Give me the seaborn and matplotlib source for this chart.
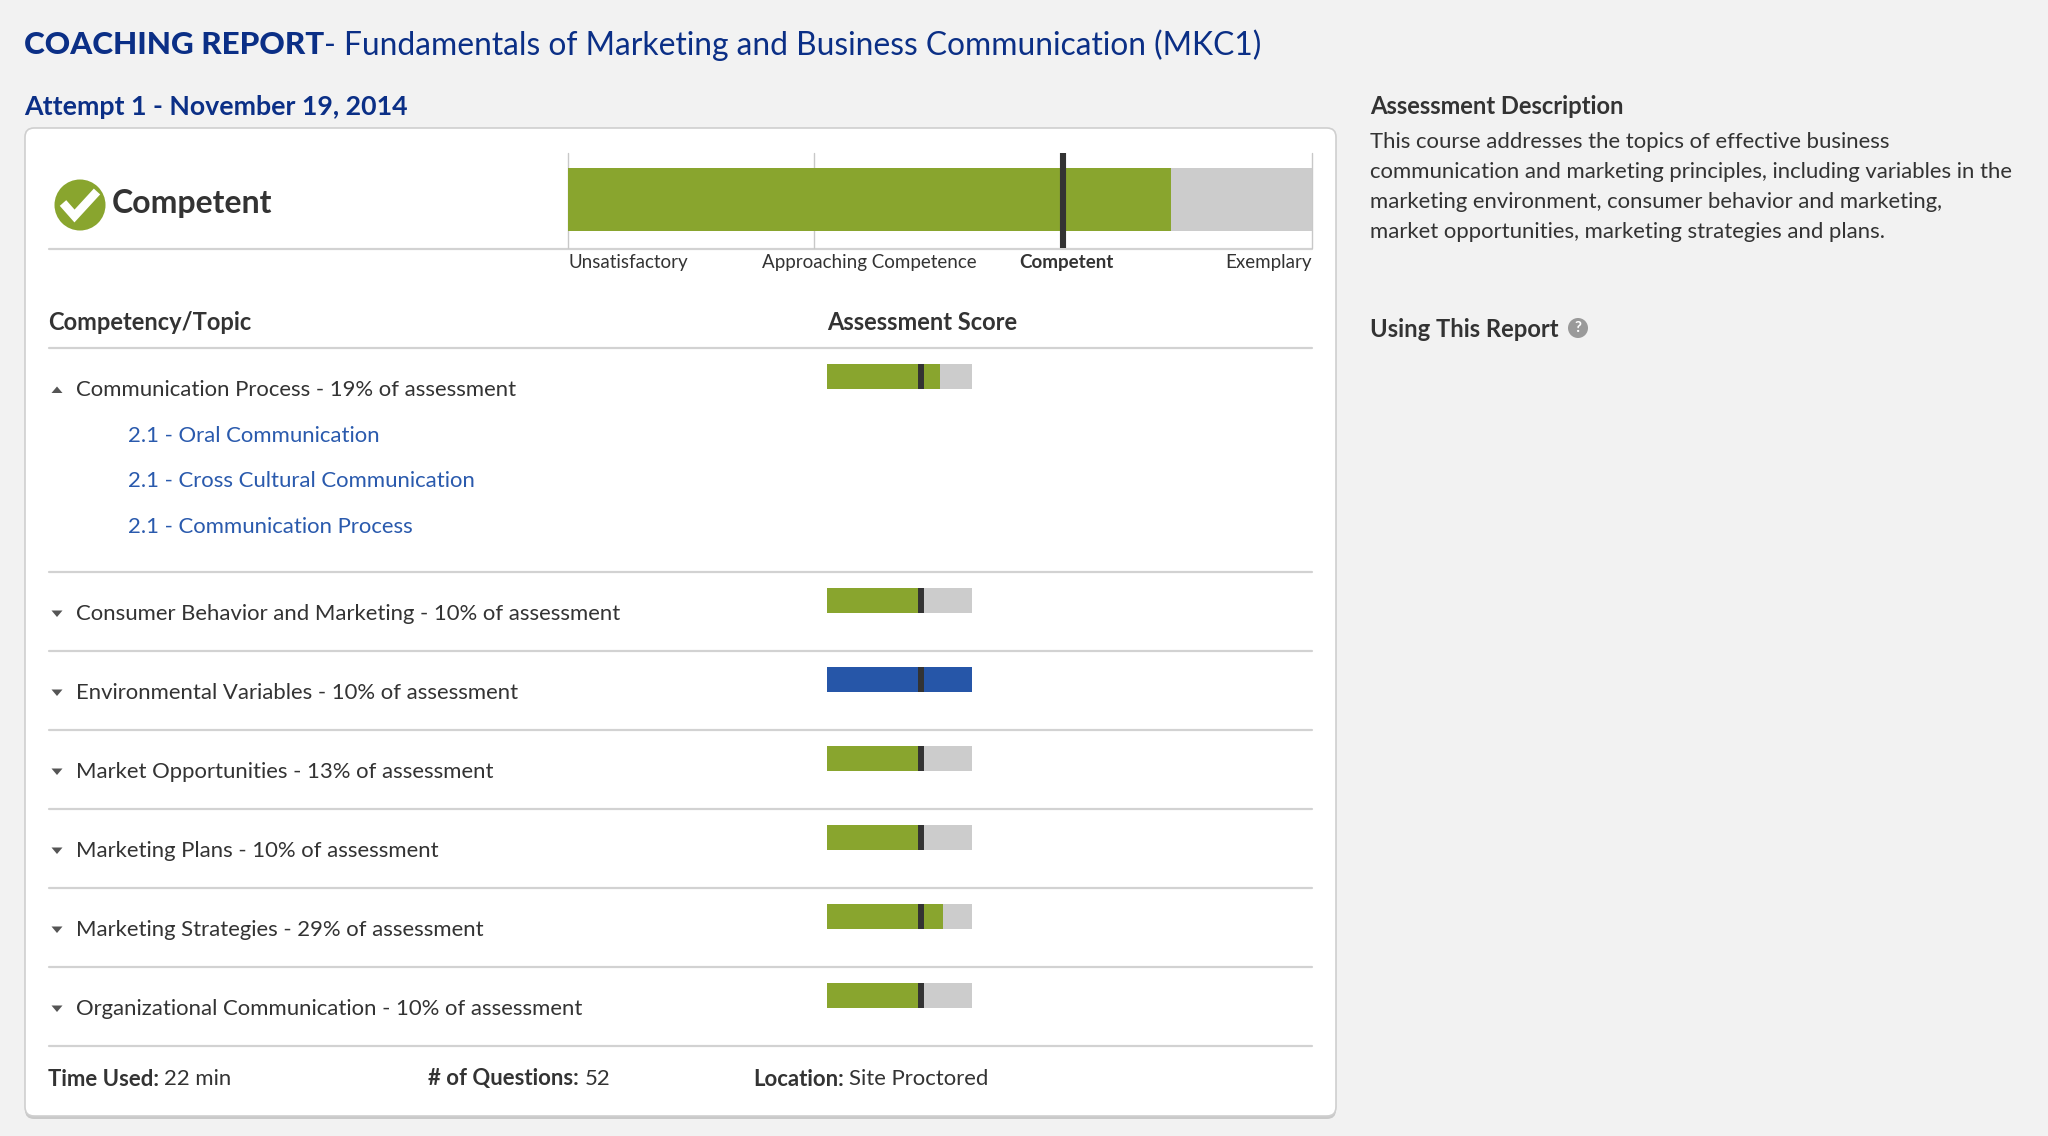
import matplotlib
matplotlib.use("Agg")
import matplotlib.pyplot as plt
import seaborn as sns
import pandas as pd
from matplotlib import font_manager
from matplotlib.patches import FancyBboxPatch, Circle, Polygon

# ---------------- data ----------------
report_title = "COACHING REPORT"
course_title = "- Fundamentals of Marketing and Business Communication (MKC1)"
attempt_label = "Attempt 1 - November 19, 2014"

overall_level = "Competent"
overall_score = 81
overall_cut = 66.5
level_names = ["Unsatisfactory", "Approaching Competence", "Competent", "Exemplary"]
level_ticks = [0, 40.5, 67, 100]
level_bounds = [0, 33, 100]

topics = ["Communication Process", "Consumer Behavior and Marketing",
          "Environmental Variables", "Market Opportunities", "Marketing Plans",
          "Marketing Strategies", "Organizational Communication"]
topic_weights = [19, 10, 10, 13, 10, 29, 10]
topic_scores = [78, 64, 100, 64, 64, 80, 64]
topic_levels = ["Competent", "Competent", "Exemplary", "Competent",
                "Competent", "Competent", "Competent"]
topic_cut = 65
expanded_topic = "Communication Process"
subtopics = ["2.1 - Oral Communication", "2.1 - Cross Cultural Communication",
             "2.1 - Communication Process"]

column_headers = ["Competency/Topic", "Assessment Score"]
footer_labels = ["Time Used:", "# of Questions:", "Location:"]
footer_values = ["22 min", "52", "Site Proctored"]

desc_title = "Assessment Description"
desc_lines = ["This course addresses the topics of effective business",
              "communication and marketing principles, including variables in the",
              "marketing environment, consumer behavior and marketing,",
              "market opportunities, marketing strategies and plans."]
help_title = "Using This Report"

# ---------------- style ----------------
GREEN = "#89a52e"
BLUE = "#2656a8"
GRAY = "#cccccc"
MARK = "#333333"
NAVY = "#0b2f86"
TEXT = "#333333"
LINK = "#2a5aad"
LINE = "#d2d2d2"
level_colors = {"Competent": GREEN, "Exemplary": BLUE}

sns.set_theme(style="white")
plt.rcParams["font.family"] = ["Lato", "DejaVu Sans"]

# a medium-weight face for the course title if one is installed
_names = {f.name for f in font_manager.fontManager.ttflist}
if "Lato Semibold" in _names:
    title_family, title_weight, title_size = ["Lato Semibold", "DejaVu Sans"], "normal", 22.5
elif "Lato Medium" in _names:
    title_family, title_weight, title_size = ["Lato Medium", "DejaVu Sans"], "normal", 22.7
else:
    title_family, title_weight, title_size = ["Lato", "DejaVu Sans"], "normal", 22.85

W, H = 2048, 1136
fig = plt.figure(figsize=(W / 100, H / 100), dpi=100)
fig.patch.set_facecolor("#f2f2f2")


def rect(x0, y0, x1, y1):
    return [x0 / W, 1 - y1 / H, (x1 - x0) / W, (y1 - y0) / H]


bg = fig.add_axes([0, 0, 1, 1])
bg.set_xlim(0, W)
bg.set_ylim(H, 0)
bg.axis("off")
bg.set_facecolor("none")

# card with slight shadow
bg.add_patch(FancyBboxPatch((25, 130), 1311, 989, boxstyle="round,pad=0,rounding_size=9",
                            fc="#c9c9c9", ec="none", zorder=1))
bg.add_patch(FancyBboxPatch((25, 128), 1311, 988, boxstyle="round,pad=0,rounding_size=9",
                            fc="white", ec="#cfcfcf", lw=1.2, zorder=2))

# titles
t1 = bg.text(24, 45.5, report_title, fontsize=22.6, fontweight="black", color=NAVY,
             va="center", ha="left", zorder=5)
bg.annotate(course_title, xy=(1, 0.5), xycoords=t1, va="center", ha="left",
            fontsize=title_size, family=title_family, fontweight=title_weight,
            color=NAVY, zorder=5)
bg.text(24, 107, attempt_label, fontsize=19.3, fontweight="bold", color=NAVY,
        va="center", ha="left", zorder=5)

# overall status
bg.add_patch(Circle((80, 205), 25.5, fc=GREEN, ec="none", zorder=5))
bg.plot([63, 74.5, 97], [203, 216, 191.5], color="white", lw=6.2,
        solid_capstyle="butt", solid_joinstyle="miter", zorder=6)
bg.text(112, 203, overall_level, fontsize=23, fontweight="bold", color=TEXT,
        va="center", ha="left", zorder=5)

# overall bullet bar
BX0, BX1, BY0, BY1 = 568, 1312, 153, 248
bar_top, bar_bot = 168, 231
axb = fig.add_axes(rect(BX0, BY0, BX1, BY1))
sns.barplot(x=[100], y=[overall_level], orient="h", color=GRAY, width=1,
            saturation=1, errorbar=None, linewidth=0, ax=axb)
sns.barplot(x=[overall_score], y=[overall_level], orient="h", color=GREEN, width=1,
            saturation=1, errorbar=None, linewidth=0, ax=axb)
unit = bar_bot - bar_top
axb.set_ylim(0.5 + (BY1 - bar_bot) / unit, -0.5 - (bar_top - BY0) / unit)
axb.set_xlim(0, 100)
for b in level_bounds:
    axb.axvline(b, color="#c8c8c8", lw=1.0, clip_on=False, zorder=0.5)
axb.axvline(overall_cut, color=MARK, lw=4.4, zorder=5)
axb.set_facecolor("none")
sns.despine(ax=axb, left=True, bottom=True)
axb.set_yticks([])
axb.set_ylabel("")
axb.set_xlabel("")
axb.set_xticks(level_ticks, level_names)
axb.tick_params(axis="x", length=0, pad=4.3, labelsize=13.5, labelcolor=TEXT)
has = ["left", "center", "center", "right"]
for lab, ha in zip(axb.get_xticklabels(), has):
    lab.set_ha(ha)
    if lab.get_text() == overall_level:
        lab.set_fontweight("bold")
bg.plot([49, 1312], [249, 249], color=LINE, lw=1.6, zorder=5)

# column headers
bg.text(48, 322.5, column_headers[0], fontsize=17.0, fontweight="bold", color=TEXT,
        va="center", ha="left", zorder=5)
bg.text(827, 322.5, column_headers[1], fontsize=17.0, fontweight="bold", color=TEXT,
        va="center", ha="left", zorder=5)
bg.plot([49, 1312], [347.5, 347.5], color=LINE, lw=1.6, zorder=5)

# topic rows
ROW_H = 79.0
SUB_H = 45.7
SX0, SX1 = 826.7, 971.6
FS = 15.9
y = 347.5
for name, w, sc, lvl in zip(topics, topic_weights, topic_scores, topic_levels):
    expanded = name == expanded_topic
    row_h = 224.0 if expanded else ROW_H
    ty = y + 42.5
    # triangle marker
    if expanded:
        tri = [(51.5, ty + 3), (62.5, ty + 3), (57, ty - 3.5)]
    else:
        tri = [(51.5, ty - 3.5), (62.5, ty - 3.5), (57, ty + 3)]
    bg.add_patch(Polygon(tri, closed=True, fc="#555555", ec="none", zorder=5))
    bg.text(76.5, ty, f"{name} - {w}% of assessment", fontsize=FS, color=TEXT,
            va="center", ha="left", zorder=5)
    if expanded:
        for i, s in enumerate(subtopics):
            bg.text(128, ty + SUB_H * (i + 1), s, fontsize=FS, color=LINK,
                    va="center", ha="left", zorder=5)
    # small bullet bar
    ax = fig.add_axes(rect(SX0, y + 16, SX1, y + 41.5))
    sns.barplot(x=[100], y=[name], orient="h", color=GRAY, width=1,
                saturation=1, errorbar=None, linewidth=0, ax=ax)
    sns.barplot(x=[sc], y=[name], orient="h", color=level_colors[lvl], width=1,
                saturation=1, errorbar=None, linewidth=0, ax=ax)
    ax.axvline(topic_cut, color=MARK, lw=4.3, zorder=5)
    ax.set_xlim(0, 100)
    ax.set_ylim(0.5, -0.5)
    ax.axis("off")
    y += row_h
    bg.plot([49, 1312], [y, y], color=LINE, lw=1.6, zorder=5)

# footer
for xf, lab, val in zip([48, 428, 753], footer_labels, footer_values):
    tl = bg.text(xf, 1079, lab, fontsize=FS, fontweight="bold", color=TEXT,
                 va="center", ha="left", zorder=5)
    bg.annotate(val, xy=(1, 0.5), xycoords=tl, xytext=(5.5, 0), textcoords="offset pixels",
                va="center", ha="left", fontsize=FS, color=TEXT, zorder=5)

# right panel
bg.text(1370, 106.3, desc_title, fontsize=17.1, fontweight="bold", color=TEXT,
        va="center", ha="left", zorder=5)
for i, line in enumerate(desc_lines):
    bg.text(1370, 142 + 30 * i, line, fontsize=15.9, color=TEXT,
            va="center", ha="left", zorder=5)
bg.text(1370, 329.5, help_title, fontsize=17.1, fontweight="bold", color=TEXT,
        va="center", ha="left", zorder=5)
bg.add_patch(Circle((1578, 328), 10, fc="#9a9a9a", ec="none", zorder=5))
bg.text(1578, 328.5, "?", fontsize=11, fontweight="bold", color="white",
        va="center", ha="center", zorder=6)

fig.savefig("out.png", dpi=100, facecolor=fig.get_facecolor())
